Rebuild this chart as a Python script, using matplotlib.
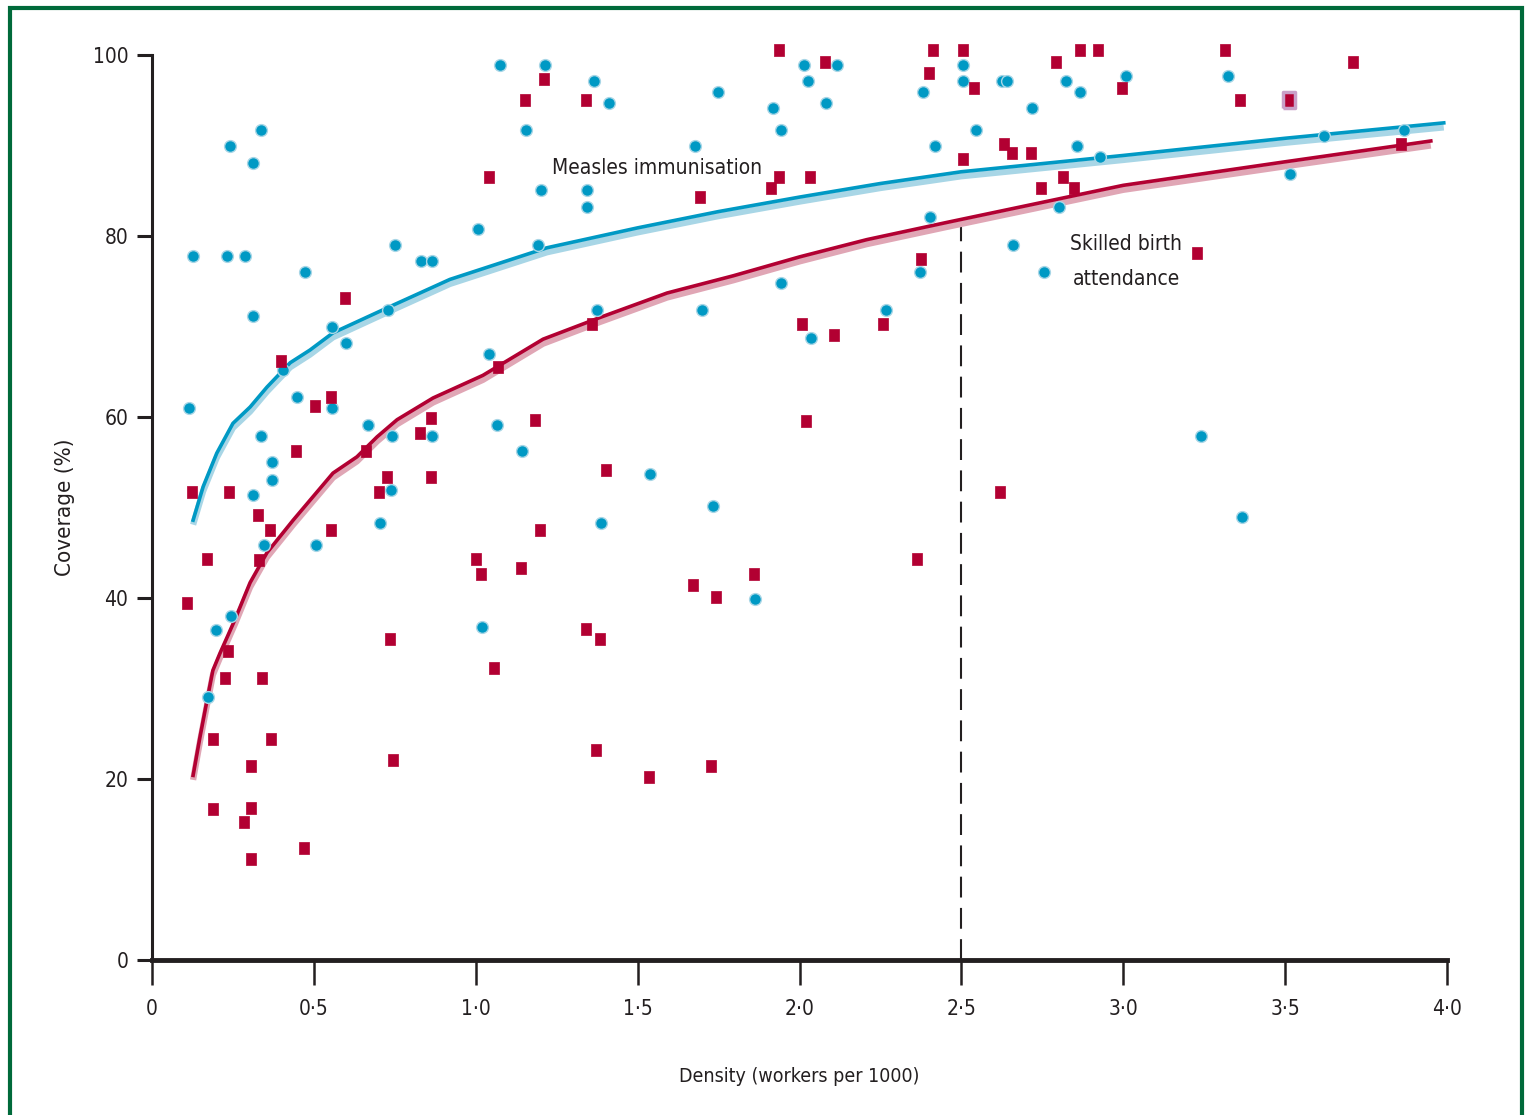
import matplotlib
matplotlib.use("Agg")
import matplotlib.pyplot as plt
from matplotlib.patches import Rectangle
from matplotlib import font_manager

# ---- data -------------------------------------------------------------
measles_x = [0.114, 0.127, 0.173, 0.198, 0.232, 0.241, 0.244, 0.287, 0.312, 0.312,
             0.312, 0.337, 0.337, 0.346, 0.371, 0.371, 0.405, 0.448, 0.473, 0.507,
             0.556, 0.556, 0.599, 0.667, 0.704, 0.729, 0.738, 0.741, 0.751, 0.831,
             0.865, 0.865, 1.007, 1.019, 1.041, 1.066, 1.075, 1.143, 1.155, 1.192,
             1.202, 1.214, 1.344, 1.344, 1.365, 1.375, 1.387, 1.412, 1.538, 1.677,
             1.699, 1.733, 1.748, 1.863, 1.918, 1.943, 1.943, 2.014, 2.026, 2.035,
             2.082, 2.116, 2.267, 2.372, 2.382, 2.403, 2.418, 2.505, 2.505, 2.545,
             2.625, 2.640, 2.659, 2.718, 2.755, 2.802, 2.823, 2.857, 2.866, 2.928,
             3.008, 3.240, 3.324, 3.367, 3.515, 3.620, 3.867]
measles_y = [61.0, 77.8, 29.1, 36.5, 77.8, 89.9, 38.0, 77.8, 88.1, 71.2,
             51.4, 91.7, 57.9, 45.9, 55.0, 53.0, 65.2, 62.2, 76.0, 45.9,
             69.9, 61.0, 68.2, 59.1, 48.3, 71.8, 51.9, 57.9, 79.0, 77.2,
             77.2, 57.9, 80.8, 36.8, 67.0, 59.1, 98.9, 56.2, 91.7, 79.0,
             85.1, 98.9, 85.1, 83.2, 97.1, 71.8, 48.3, 94.7, 53.7, 89.9,
             71.8, 50.2, 95.9, 39.9, 94.1, 91.7, 74.8, 98.9, 97.1, 68.7,
             94.7, 98.9, 71.8, 76.0, 95.9, 82.1, 89.9, 98.9, 97.1, 91.7,
             97.1, 97.1, 79.0, 94.1, 76.0, 83.2, 97.1, 89.9, 95.9, 88.7,
             97.7, 57.9, 97.7, 48.9, 86.9, 91.0, 91.7]

birth_x = [0.108, 0.124, 0.170, 0.188, 0.188, 0.226, 0.235, 0.238, 0.284, 0.306,
           0.306, 0.306, 0.327, 0.331, 0.340, 0.365, 0.368, 0.398, 0.445, 0.470,
           0.503, 0.553, 0.553, 0.596, 0.661, 0.701, 0.726, 0.735, 0.744, 0.828,
           0.862, 0.862, 1.001, 1.016, 1.041, 1.056, 1.069, 1.140, 1.152, 1.183,
           1.198, 1.211, 1.341, 1.341, 1.359, 1.371, 1.384, 1.402, 1.535, 1.671,
           1.693, 1.727, 1.742, 1.859, 1.912, 1.937, 1.937, 2.008, 2.020, 2.032,
           2.079, 2.107, 2.258, 2.363, 2.375, 2.400, 2.412, 2.505, 2.505, 2.539,
           2.619, 2.632, 2.656, 2.715, 2.746, 2.792, 2.814, 2.848, 2.866, 2.921,
           2.996, 3.228, 3.315, 3.362, 3.512, 3.710, 3.858]
birth_y = [39.4, 51.7, 44.3, 24.4, 16.7, 31.2, 34.1, 51.7, 15.2, 21.4,
           16.8, 11.2, 49.2, 44.2, 31.2, 47.5, 24.4, 66.2, 56.2, 12.4,
           61.2, 62.2, 47.5, 73.1, 56.2, 51.7, 53.4, 35.5, 22.1, 58.2,
           59.9, 53.4, 44.3, 42.7, 86.5, 32.3, 65.5, 43.3, 95.0, 59.7,
           47.5, 97.3, 95.0, 36.6, 70.3, 23.2, 35.5, 54.1, 20.2, 41.4,
           84.3, 21.4, 40.1, 42.7, 85.3, 100.5, 86.5, 70.3, 59.6, 86.5,
           99.2, 69.1, 70.3, 44.3, 77.5, 98.0, 100.5, 100.5, 88.5, 96.4,
           51.7, 90.2, 89.2, 89.2, 85.3, 99.2, 86.5, 85.3, 100.5, 100.5,
           96.4, 78.1, 100.5, 95.0, 95.0, 99.2, 90.2]

# fitted trend curves
measles_fit_x = [0.127, 0.158, 0.200, 0.250, 0.303, 0.355, 0.427, 0.488, 0.559, 0.735,
                 0.920, 1.220, 1.50, 1.75, 2.00, 2.25, 2.50, 3.00, 3.50, 3.99]
measles_fit_y = [48.6, 52.3, 56.0, 59.3, 61.1, 63.3, 66.0, 67.4, 69.3, 72.2,
                 75.2, 78.7, 80.9, 82.7, 84.3, 85.8, 87.1, 88.9, 90.8, 92.5]
birth_fit_x = [0.127, 0.148, 0.170, 0.188, 0.210, 0.235, 0.256, 0.303, 0.355, 0.436,
               0.488, 0.559, 0.633, 0.695, 0.757, 0.868, 1.022, 1.208, 1.384, 1.591,
               1.795, 2.001, 2.208, 2.455, 3.00, 3.50, 3.95]
birth_fit_y = [20.4, 24.6, 28.7, 32.0, 33.9, 35.9, 37.6, 41.7, 45.0, 48.6,
               50.8, 53.8, 55.6, 57.8, 59.7, 62.1, 64.6, 68.6, 71.0, 73.7,
               75.6, 77.7, 79.6, 81.5, 85.6, 88.2, 90.5]

threshold_x = 2.5
threshold_top = 82.0
highlight_point = (3.512, 95.0)

x_ticks = [0, 0.5, 1.0, 1.5, 2.0, 2.5, 3.0, 3.5, 4.0]
x_tick_labels = ["0", "0\u00b75", "1\u00b70", "1\u00b75", "2\u00b70",
                 "2\u00b75", "3\u00b70", "3\u00b75", "4\u00b70"]
y_ticks = [0, 20, 40, 60, 80, 100]

# ---- style ------------------------------------------------------------
# prefer a condensed sans face when one is installed
fonts = font_manager.fontManager.ttflist
names = {f.name for f in fonts}
condensed = [f for f in fonts if str(f.stretch) in ("condensed", "semi-condensed", "575", "500")
             and "Sans" in f.name]
if "Liberation Sans Narrow" in names:
    family, stretch = "Liberation Sans Narrow", "normal"
elif condensed:
    family, stretch = condensed[0].name, "condensed"
else:
    family, stretch = "Liberation Sans", "normal"
plt.rcParams["font.family"] = [family, "DejaVu Sans"]
plt.rcParams["font.stretch"] = stretch

BLUE = "#0099c4"
BLUE_LIGHT = "#a8d6e6"
RED = "#b20032"
RED_LIGHT = "#e0a6b5"
INK = "#231f20"
GREEN = "#006a3a"

narrow_text = family != "Liberation Sans"
LBL = 15 if narrow_text else 13.5
XLBL = 14 if narrow_text else 12.5
TCK = 15 if narrow_text else 14
YLBL = 16 if narrow_text else 14

fig = plt.figure(figsize=(15.29, 11.15), dpi=100)
fig.patch.set_facecolor("white")

# frame around the panel
fig.add_artist(Rectangle((10 / 1529, -0.02), (1522 - 10) / 1529, 1.02 - 8 / 1115,
                         transform=fig.transFigure, fill=False,
                         edgecolor=GREEN, linewidth=3.0))

ax = fig.add_axes([152 / 1529, (1115 - 960) / 1115, (1447 - 152) / 1529, (960 - 55) / 1115])
ax.set_xlim(0, 4.0)
ax.set_ylim(0, 100)

# trend lines with a soft halo
ax.plot(measles_fit_x, [v - 0.5 for v in measles_fit_y], color=BLUE_LIGHT, lw=4.5,
        solid_capstyle="butt", zorder=2)
ax.plot(measles_fit_x, measles_fit_y, color=BLUE, lw=2.6, zorder=3)
ax.plot(birth_fit_x, [v - 0.5 for v in birth_fit_y], color=RED_LIGHT, lw=4.5,
        solid_capstyle="butt", zorder=2)
ax.plot(birth_fit_x, birth_fit_y, color=RED, lw=2.6, zorder=3)

# country points
tall_box = [(-0.38, -0.5), (0.38, -0.5), (0.38, 0.5), (-0.38, 0.5), (-0.38, -0.5)]
ax.plot(measles_x, measles_y, linestyle="none", marker="o", ms=8.5,
        markerfacecolor=BLUE, markeredgecolor=BLUE_LIGHT, markeredgewidth=1.0,
        zorder=4, clip_on=False)
ax.plot(birth_x, birth_y, linestyle="none", marker=tall_box, ms=9,
        markerfacecolor=RED, markeredgecolor=RED, markeredgewidth=0.5,
        zorder=5, clip_on=False)
ax.plot([highlight_point[0]], [highlight_point[1]], linestyle="none", marker=tall_box, ms=11,
        markerfacecolor=RED, markeredgecolor="#c9a0c8", markeredgewidth=2.5, zorder=6)

# threshold marker
ax.plot([threshold_x, threshold_x], [0, threshold_top], color=INK, lw=1.5,
        linestyle=(0, (10, 5)), zorder=1)

# series labels
ax.text(1.56, 87.5, "Measles immunisation", fontsize=LBL, color=INK,
        ha="center", va="center", zorder=7)
ax.text(3.01, 79.1, "Skilled birth", fontsize=LBL, color=INK, ha="center", va="center")
ax.text(3.01, 75.3, "attendance", fontsize=LBL, color=INK, ha="center", va="center")

# axes styling
for side in ("top", "right"):
    ax.spines[side].set_visible(False)
ax.spines["left"].set_linewidth(2.2)
ax.spines["bottom"].set_linewidth(3.5)
ax.spines["left"].set_color(INK)
ax.spines["bottom"].set_color(INK)

ax.set_xticks(x_ticks)
ax.set_xticklabels(x_tick_labels)
ax.set_yticks(y_ticks)
ax.set_yticklabels([str(v) for v in y_ticks])
ax.tick_params(axis="x", direction="out", length=18, width=1.8, color=INK,
               labelsize=TCK, labelcolor=INK, pad=10)
ax.tick_params(axis="y", direction="out", length=11, width=2.2, color=INK,
               labelsize=TCK, labelcolor=INK, pad=6)

ax.set_xlabel("Density (workers per 1000)", fontsize=XLBL, color=INK, labelpad=35)
ax.set_ylabel("Coverage (%)", fontsize=YLBL, color=INK, labelpad=13)

fig.savefig("out.png", dpi=100, facecolor="white")
